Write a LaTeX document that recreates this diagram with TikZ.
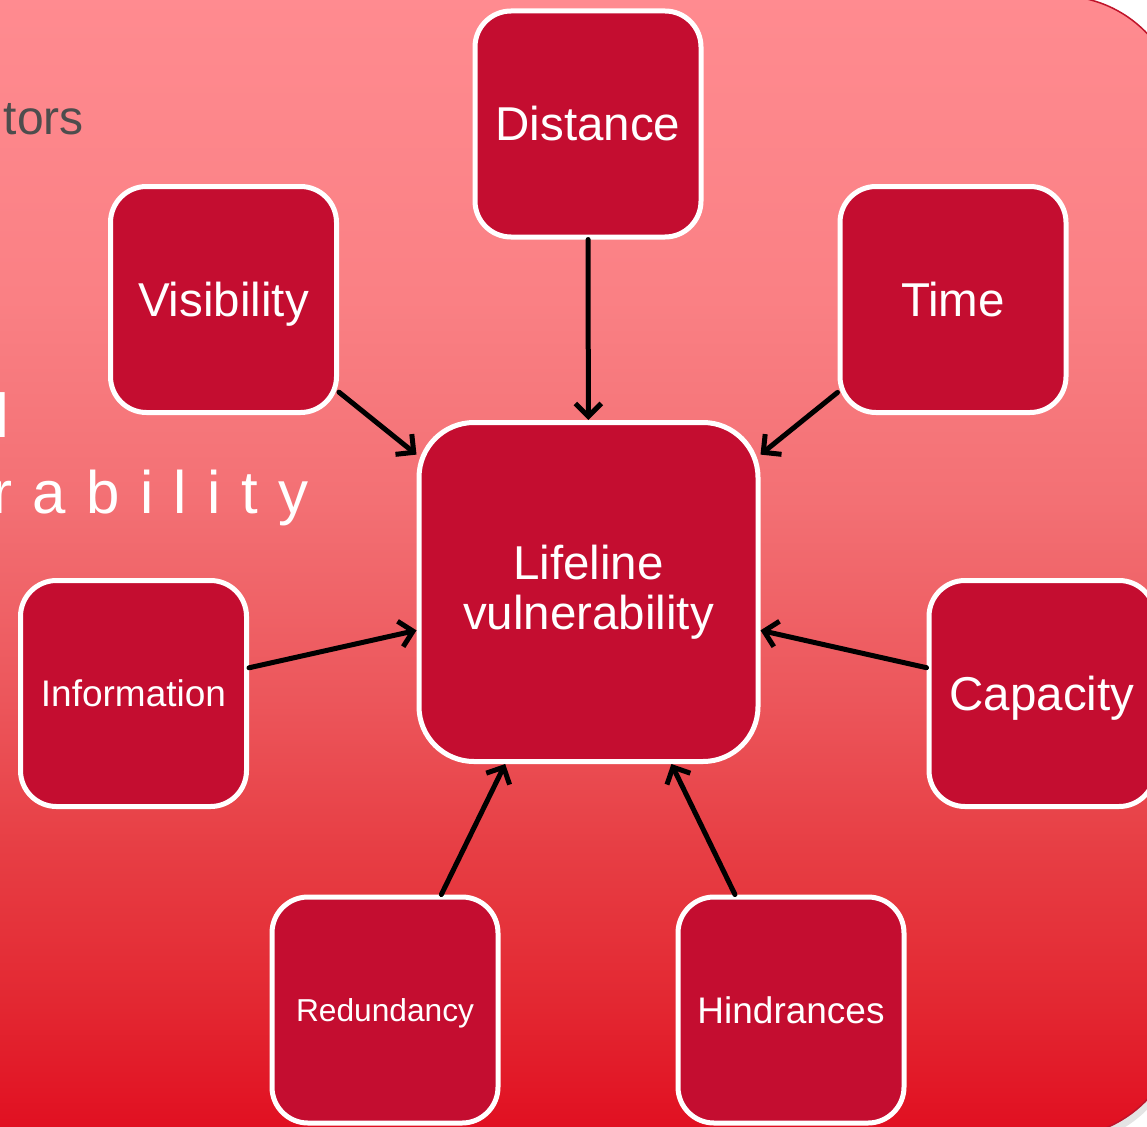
\documentclass[tikz,border=0pt]{standalone}
\usepackage{fontspec}
\setmainfont{Liberation Sans}
\usetikzlibrary{arrows.meta}
\definecolor{boxred}{RGB}{196,13,48}
\definecolor{edgered}{RGB}{192,20,42}
\definecolor{txtgray}{RGB}{77,77,77}
\definecolor{shadowgray}{RGB}{228,228,228}
\definecolor{g0}{RGB}{225,14,32}
\definecolor{g1}{RGB}{227,40,50}
\definecolor{g2}{RGB}{231,62,68}
\definecolor{g3}{RGB}{236,86,91}
\definecolor{g4}{RGB}{243,112,116}
\definecolor{g5}{RGB}{250,128,132}
\definecolor{g6}{RGB}{255,139,144}
\pgfdeclareverticalshading{bgshade}{100bp}{color(0bp)=(g0); color(25bp)=(g0); color(31bp)=(g1); color(37.6bp)=(g2); color(44.2bp)=(g3); color(52.9bp)=(g4); color(61.7bp)=(g5); color(75bp)=(g6); color(100bp)=(g6)}
\begin{document}
\begin{tikzpicture}[x=1pt,y=-1pt,
  bx/.style={draw=white, line width=5pt, fill=boxred, rounded corners=36pt,
    minimum width=226pt, minimum height=226pt, text=white, inner sep=0pt, align=center},
  bigbx/.style={bx, rounded corners=55pt, minimum width=339pt, minimum height=339pt},
  arr/.style={draw=black, line width=5pt, line cap=round, line join=round,
    -{Straight Barb[length=13pt,width=26pt]}},
  big/.style={font=\fontsize{47.5}{50}\selectfont},
  mid/.style={font=\fontsize{37}{40}\selectfont},
  small/.style={font=\fontsize{31.7}{34}\selectfont}
]
\useasboundingbox (0,0) rectangle (1147,1126);
\fill[white] (0,0) rectangle (1147,1126);
% slide background
\fill[shadowgray, rounded corners=120pt] (-198,4) rectangle (1182,1145);
\shade[shading=bgshade, rounded corners=120pt] (-200,-4) rectangle (1180,1137);
\draw[edgered, line width=1.5pt, rounded corners=120pt] (-200,-4) rectangle (1180,1137);
% partial slide texts
\node[anchor=base east, inner sep=0pt, text=txtgray, font=\fontsize{48}{50}\selectfont] (t1) at (84,135) {tors};
\node[anchor=base west, inner sep=0pt, text=white, font=\fontsize{62}{64}\selectfont] (t2) at (-5,437) {l};
\node[anchor=base west, inner sep=0pt, text=white, font=\fontsize{60}{62}\selectfont\addfontfeature{LetterSpace=34}] (t3) at (-8,513) {rability};
% boxes
\node[bigbx, big] (lv) at (588.5,592) {Lifeline\\vulnerability};
\node[bx, big] (dist) at (588,124) {Distance};
\node[bx, big, text depth=0pt] (vis) at (223.5,299.5) {Visibility};
\node[bx, big] (time) at (953,299.5) {Time};
\node[bx, mid] (info) at (133.5,693.5) {Information};
\node[bx, big, text depth=0pt] (cap) at (1042,693.5) {Capacity};
\node[bx, small, text depth=0pt] (red) at (385,1010) {Redundancy};
\node[bx, mid] (hind) at (791,1010) {Hindrances};
% arrows
\draw[arr] (dist) -- (lv);
\draw[arr] (vis) -- (lv);
\draw[arr] (time) -- (lv);
\draw[arr] (info) -- (lv);
\draw[arr] (cap) -- (lv);
\draw[arr] (red) -- (lv);
\draw[arr] (hind) -- (lv);
\end{tikzpicture}
\end{document}
